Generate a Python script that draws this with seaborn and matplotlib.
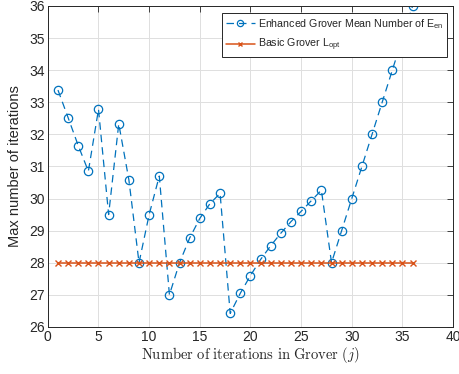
import numpy as np
import pandas as pd
import matplotlib
matplotlib.use("Agg")
import matplotlib.pyplot as plt
import seaborn as sns

# Grover iteration index j
iterations = list(range(1, 37))

# Enhanced Grover: mean number of E_en
enhanced_mean = [33.38, 32.52, 31.65, 30.85, 32.78, 29.50, 32.33, 30.58, 28.00, 29.50,
                 30.70, 27.00, 28.00, 28.77, 29.38, 29.84, 30.16, 26.42, 27.05, 27.60,
                 28.10, 28.53, 28.92, 29.28, 29.60, 29.93, 30.26, 28.00, 29.00, 30.00,
                 31.00, 32.00, 33.00, 34.00, 35.00, 36.00]

# Basic Grover: optimal number of iterations L_opt
basic_lopt = [28.0] * 36

x_ticks = [0, 5, 10, 15, 20, 25, 30, 35, 40]
y_ticks = [26, 27, 28, 29, 30, 31, 32, 33, 34, 35, 36]

df = pd.DataFrame({"j": iterations, "enhanced": enhanced_mean, "basic": basic_lopt})

sns.set_style("white")
plt.rcParams["font.family"] = ["Liberation Sans", "DejaVu Sans"]
plt.rcParams["mathtext.fontset"] = "custom"
plt.rcParams["mathtext.rm"] = "Liberation Sans"

fig = plt.figure(figsize=(4.6, 3.74), dpi=100)
ax = fig.add_axes([0.104, 0.126, 0.881, 0.858])

blue = "#0072BD"
orange = "#D95319"

sns.lineplot(data=df, x="j", y="enhanced", ax=ax, color=blue, dashes=False,
             linestyle=(0, (6, 4)), linewidth=0.9, marker="o", markersize=6,
             markerfacecolor="none", markeredgecolor=blue, markeredgewidth=0.9,
             label=r"Enhanced Grover Mean Number of E$_{\mathrm{en}}$")
sns.lineplot(data=df, x="j", y="basic", ax=ax, color=orange, dashes=False,
             linestyle="-", linewidth=1.1, marker="x", markersize=4,
             markeredgecolor=orange, markeredgewidth=1.0,
             label=r"Basic Grover L$_{\mathrm{opt}}$")
ax.lines[1].set_linestyle("-")

ax.set_xlim(0, 40)
ax.set_ylim(26, 36)
ax.set_xticks(x_ticks)
ax.set_yticks(y_ticks)
ax.tick_params(direction="in", length=4, width=0.6, labelsize=10, colors="#262626",
               top=True, right=True, pad=2)
ax.grid(True, color="#DFDFDF", linewidth=0.7)
ax.set_axisbelow(True)
for s in ax.spines.values():
    s.set_color("#262626")
    s.set_linewidth(0.7)

ax.set_ylabel("Max number of iterations", fontsize=10.5, color="#262626", labelpad=5)
xl = ax.set_xlabel(r"$\mathrm{Number\ of\ iterations\ in\ Grover\ }(j)$", fontsize=10.5,
                   color="#262626", labelpad=1)
xl.set_math_fontfamily("cm")

leg = ax.legend(loc="upper right", bbox_to_anchor=(0.985, 0.977), fontsize=7.7,
                frameon=True, fancybox=False, edgecolor="#262626", framealpha=1,
                handlelength=2.7, borderpad=0.35, labelspacing=0.55, handletextpad=0.3,
                borderaxespad=0, markerscale=0.75)
leg.get_frame().set_linewidth(0.7)
for h in leg.get_lines()[1:]:
    h.set_linestyle("-")

fig.savefig("out.png", dpi=100)
